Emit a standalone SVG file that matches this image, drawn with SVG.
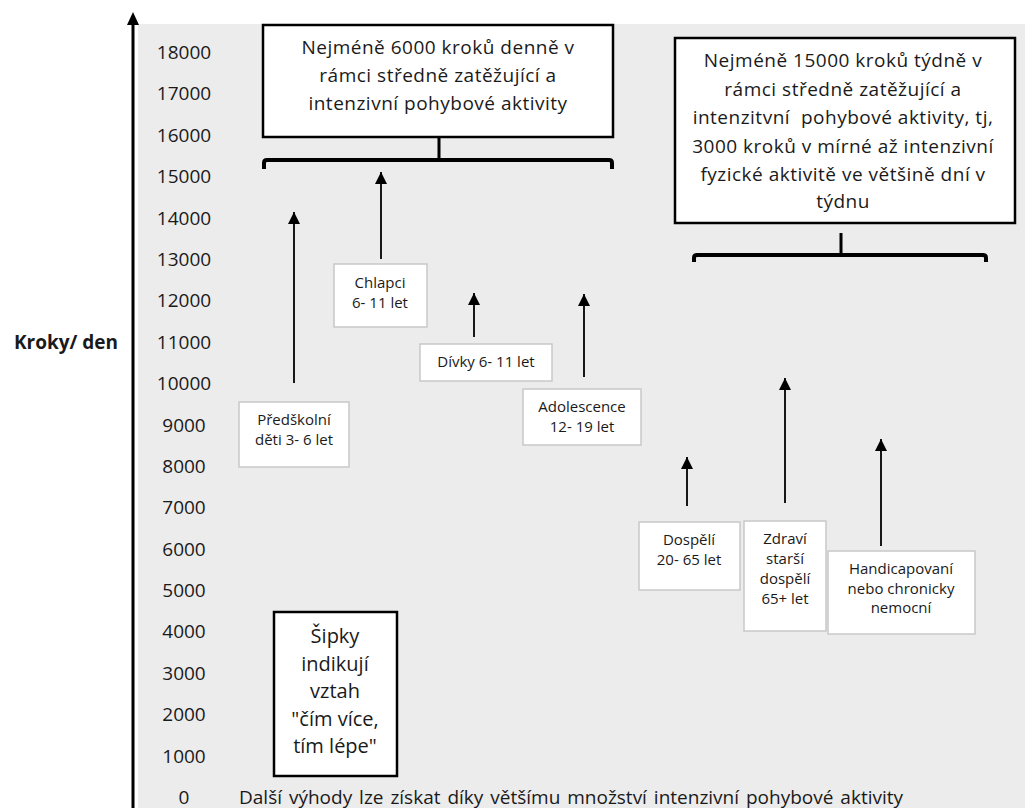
<svg xmlns="http://www.w3.org/2000/svg" width="1025" height="808" viewBox="0 0 1025 808">
<defs>
<marker id="ah" viewBox="0 0 12 12" refX="12" refY="6" markerWidth="12" markerHeight="12" markerUnits="userSpaceOnUse" orient="auto">
<path d="M0,0 L12,6 L0,12 z" fill="#000"/>
</marker>
<style>
text{font-family:"Open Sans","Liberation Sans",sans-serif;fill:#1a1a1a}
.tick{font-size:19px;text-anchor:middle}
.big{font-size:19px;text-anchor:middle;letter-spacing:0.5px}
.leg{font-size:20px;text-anchor:middle}
.sm{font-size:15px;text-anchor:middle}
.bigbox{fill:#fff;stroke:#000;stroke-width:2.5}
.smbox{fill:#fff;stroke:#c8c8c8;stroke-width:1.5}
.arr{stroke:#000;stroke-width:1.8;fill:none;marker-end:url(#ah)}
.brace{fill:none;stroke:#000;stroke-width:4;stroke-linejoin:round}
.conn{stroke:#000;stroke-width:3}
</style>
</defs>
<rect x="0" y="0" width="1025" height="808" fill="#fff"/>
<rect x="138" y="24" width="887" height="784" fill="#ececec"/>
<g id="axis">
<line x1="133" y1="808" x2="133" y2="22" stroke="#000" stroke-width="3"/>
<path d="M127,25 L133,12 L139,25 z" fill="#000"/>
<text x="66" y="349" style="font-size:19px;font-weight:bold;text-anchor:middle">Kroky/ den</text>
<text class="tick" x="184" y="59">18000</text>
<text class="tick" x="184" y="100">17000</text>
<text class="tick" x="184" y="142">16000</text>
<text class="tick" x="184" y="183">15000</text>
<text class="tick" x="184" y="225">14000</text>
<text class="tick" x="184" y="266">13000</text>
<text class="tick" x="184" y="307">12000</text>
<text class="tick" x="184" y="349">11000</text>
<text class="tick" x="184" y="390">10000</text>
<text class="tick" x="184" y="432">9000</text>
<text class="tick" x="184" y="473">8000</text>
<text class="tick" x="184" y="514">7000</text>
<text class="tick" x="184" y="556">6000</text>
<text class="tick" x="184" y="597">5000</text>
<text class="tick" x="184" y="638">4000</text>
<text class="tick" x="184" y="680">3000</text>
<text class="tick" x="184" y="721">2000</text>
<text class="tick" x="184" y="763">1000</text>
<text class="tick" x="184" y="804">0</text>
</g>
<g id="box-6000">
<rect class="bigbox" x="263" y="25" width="350" height="112"/>
<text class="big" x="438" y="54">Nejméně 6000 kroků denně v</text>
<text class="big" x="438" y="82">rámci středně zatěžující a</text>
<text class="big" x="438" y="110">intenzivní pohybové aktivity</text>
</g>
<g id="box-15000">
<rect class="bigbox" x="675" y="38" width="340" height="185"/>
<text class="big" x="843" y="67">Nejméně 15000 kroků týdně v</text>
<text class="big" x="843" y="96">rámci středně zatěžující a</text>
<text class="big" x="843" y="124" xml:space="preserve">intenzitvní  pohybové aktivity, tj,</text>
<text class="big" x="843" y="153">3000 kroků v mírné až intenzivní</text>
<text class="big" x="843" y="181">fyzické aktivitě ve většině dní v</text>
<text class="big" x="843" y="208">týdnu</text>
</g>
<g id="box-predskolni">
<rect class="smbox" x="239" y="402" width="110" height="65"/>
<text class="sm" x="294" y="425">Předškolní</text>
<text class="sm" x="294" y="445">děti 3- 6 let</text>
</g>
<g id="box-chlapci">
<rect class="smbox" x="334" y="264" width="93" height="63"/>
<text class="sm" x="380" y="288">Chlapci</text>
<text class="sm" x="380" y="308">6- 11 let</text>
</g>
<g id="box-divky">
<rect class="smbox" x="420" y="344" width="132" height="37"/>
<text class="sm" x="486" y="367">Dívky 6- 11 let</text>
</g>
<g id="box-adolescence">
<rect class="smbox" x="523" y="389" width="118" height="56"/>
<text class="sm" x="582" y="412">Adolescence</text>
<text class="sm" x="582" y="432">12- 19 let</text>
</g>
<g id="box-dospeli">
<rect class="smbox" x="639" y="522" width="101" height="68"/>
<text class="sm" x="689" y="545">Dospělí</text>
<text class="sm" x="689" y="565">20- 65 let</text>
</g>
<g id="box-zdravi">
<rect class="smbox" x="744" y="521" width="82" height="110"/>
<text class="sm" x="785" y="544">Zdraví</text>
<text class="sm" x="785" y="564">starší</text>
<text class="sm" x="785" y="584">dospělí</text>
<text class="sm" x="785" y="604">65+ let</text>
</g>
<g id="box-handicap">
<rect class="smbox" x="828" y="551" width="147" height="83"/>
<text class="sm" x="901" y="574">Handicapovaní</text>
<text class="sm" x="901" y="594">nebo chronicky</text>
<text class="sm" x="901" y="613">nemocní</text>
</g>
<g id="box-legend">
<rect x="274" y="612" width="123" height="164" fill="#fff" stroke="#000" stroke-width="2.5"/>
<text class="leg" x="335" y="643">Šipky</text>
<text class="leg" x="335" y="671">indikují</text>
<text class="leg" x="335" y="698">vztah</text>
<text class="leg" x="335" y="726">"čím více,</text>
<text class="leg" x="335" y="753">tím lépe"</text>
</g>
<g id="footer">
<text x="239" y="804" style="font-size:19px;word-spacing:2px">Další výhody lze získat díky většímu množství intenzivní pohybové aktivity</text>
</g>
<g id="connectors">
<line class="conn" x1="439" y1="137" x2="439" y2="160"/>
<path class="brace" d="M264,169 L264,163 Q264,160 267,160 L609,160 Q612,160 612,163 L612,169"/>
<line class="conn" x1="841" y1="233" x2="841" y2="255"/>
<path class="brace" d="M694,262 L694,258 Q694,255 697,255 L983,255 Q986,255 986,258 L986,262"/>
<line class="arr" x1="294" y1="383" x2="294" y2="212"/>
<line class="arr" x1="381" y1="259" x2="381" y2="172"/>
<line class="arr" x1="474" y1="337" x2="474" y2="293"/>
<line class="arr" x1="584" y1="377" x2="584" y2="294"/>
<line class="arr" x1="687" y1="506" x2="687" y2="457"/>
<line class="arr" x1="785" y1="503" x2="785" y2="378"/>
<line class="arr" x1="881" y1="546" x2="881" y2="439"/>
</g>
</svg>
